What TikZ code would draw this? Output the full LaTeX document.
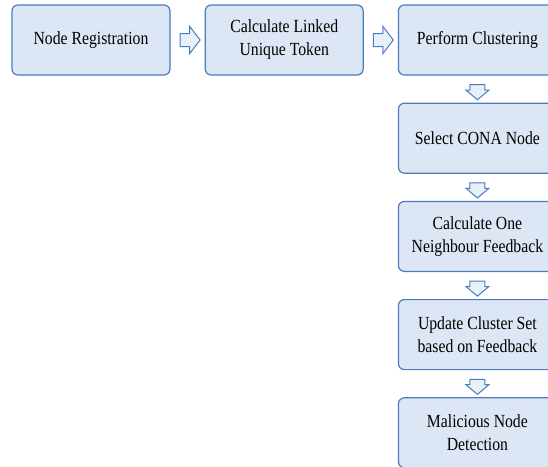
\documentclass[tikz,border=0pt]{standalone}
\usepackage{fontspec}
\setmainfont{Liberation Serif}
\newfontfamily\boxfont{Liberation Serif}[FakeStretch=0.85]
\usetikzlibrary{positioning,calc,shapes.arrows}

\definecolor{boxfill}{RGB}{220,230,244}
\definecolor{boxline}{RGB}{76,124,190}

\tikzset{
  stepbox/.style={draw=boxline,fill=boxfill,line width=1.2pt,rounded corners=6pt,
    minimum width=158pt,minimum height=70pt,inner sep=0pt,align=center,
    font=\boxfont\fontsize{18.5}{23}\selectfont},
  harrow/.style={single arrow,draw=boxline,fill=boxfill!60,line width=1pt,
    minimum height=20pt,inner xsep=0pt,inner ysep=6pt,single arrow head extend=7pt,
    single arrow tip angle=105},
  varrow/.style={harrow,rotate=-90,minimum height=15pt,inner ysep=7pt,
    single arrow head extend=4pt,single arrow tip angle=100}
}

\begin{document}
\begin{tikzpicture}
\useasboundingbox (0,0) rectangle (548pt,-466pt);

% Top row
\node[stepbox] (reg) at (91pt,-40pt) {Node Registration};
\node[stepbox,right=34pt of reg] (tok) {Calculate Linked\\Unique Token};
\node[stepbox,right=34pt of tok] (clus) {Perform Clustering};

% Right column
\node[stepbox,below=27pt of clus] (cona) {Select CONA Node};
\node[stepbox,below=27pt of cona] (feed) {Calculate One\\Neighbour Feedback};
\node[stepbox,below=27pt of feed] (upd) {Update Cluster Set\\based on Feedback};
\node[stepbox,below=27pt of upd] (mal) {Malicious Node\\Detection};

% Block arrows
\node[harrow] (a1) at ($(reg.east)!0.5!(tok.west)$) {};
\node[harrow] (a2) at ($(tok.east)!0.5!(clus.west)$) {};
\node[varrow] (a3) at ($(clus.south)!0.5!(cona.north)$) {};
\node[varrow] (a4) at ($(cona.south)!0.5!(feed.north)$) {};
\node[varrow] (a5) at ($(feed.south)!0.5!(upd.north)$) {};
\node[varrow] (a6) at ($(upd.south)!0.5!(mal.north)$) {};

\end{tikzpicture}
\end{document}
